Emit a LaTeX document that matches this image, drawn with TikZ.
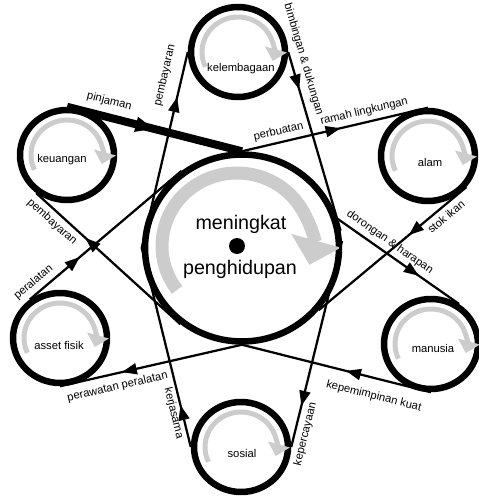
\documentclass[tikz,border=0pt]{standalone}
\usepackage{fontspec}
\setmainfont{Liberation Sans}
\usetikzlibrary{arrows.meta, shapes.geometric, decorations.markings}
\definecolor{spingray}{HTML}{CCCCCC}

\begin{document}
\begin{tikzpicture}[x = 0.02cm, y = 0.02cm]

\tikzset{
circ/.style = {ellipse, draw, line width = 0.13cm, minimum width = 1.88cm, minimum height = 1.80cm, inner sep = 0pt},
hub/.style = {ellipse, draw, line width = 0.13cm, minimum width = 3.88cm, minimum height = 3.74cm, inner sep = 0pt},
link/.style = {line width = 0.045cm},
midtip/.style = {postaction = {decorate}, decoration = {markings, mark = at position #1 with {\arrow{Triangle[width = 0.22cm, length = 0.3cm]}}}},
bigtip/.style = {postaction = {decorate}, decoration = {markings, mark = at position #1 with {\arrow{Triangle[width = 0.28cm, length = 0.38cm]}}}},
lab/.style = {font = \fontsize{6.4}{7}\selectfont, sloped, inner sep = 2.5pt},
word/.style = {font = \fontsize{6.4}{7}\selectfont},
spin/.style = {draw = spingray, line width = 0.1cm, -{Triangle[width = 0.44cm, length = 0.24cm]}},
	}

\useasboundingbox (0, 0) rectangle (478, 501);

% Circles
\node at (242, 253) [hub] (mid) {};
\node at (238, 449) [circ] (kel) {};
\node at (67, 346) [circ] (keu) {};
\node at (428, 345) [circ] (alam) {};
\node at (60, 163) [circ] (aset) {};
\node at (431, 157) [circ] (man) {};
\node at (241, 54) [circ] (sos) {};

% Turning arrows
\foreach \n in {kel, keu, alam, aset, man, sos}
  \draw [spin] ([shift = {(205:0.72cm and 0.70cm)}] \n.center) arc [start angle = 205, end angle = -15, x radius = 0.72cm, y radius = 0.70cm];
\node at (237, 255) [circle, fill, minimum size = 0.32cm, inner sep = 0pt] (dot) {};
\draw [spin, line width = 0.26cm, -{Triangle[width = 1cm, length = 0.5cm]}] ([shift = {(217:1.5cm and 1.46cm)}] dot.center) arc [start angle = 217, end angle = -15, x radius = 1.5cm, y radius = 1.46cm];

% Texts
\node at (241, 271) [anchor = base, font = \fontsize{11.2}{13}\selectfont] (up) {meningkat};
\node at (240, 226) [anchor = base, font = \fontsize{11.2}{13}\selectfont] (down) {penghidupan};
\node at (241, 432) [word] (kelt) {kelembagaan};
\node at (62, 341) [word] (keut) {keuangan};
\node at (430, 339) [word] (alamt) {alam};
\node at (59, 156) [word] (asett) {asset fisik};
\node at (433, 153) [word] (mant) {manusia};
\node at (242, 48) [word] (sost) {sosial};

% Links
\draw [link, line width = 0.16cm, bigtip = 0.5] (keu.north) -- (mid.north) node [lab, pos = 0.22, above = 1pt] {pinjaman};
\draw [link, midtip = 0.53] (mid.north) -- (alam.north) node [lab, pos = 0.21, above] {perbuatan} node [lab, pos = 0.67, above] {ramah lingkungan};
\draw [link, midtip = 0.77] (mid.west) -- (kel.west) node [lab, pos = 0.86, above = 3.5pt] {pembayaran};
\draw [link, midtip = 0.21] (sos.west) -- (mid.west) node [lab, pos = 0.18, below = -1.2pt] {kerjasama};
\draw [link, midtip = 0.21] (kel.east) -- (mid.10) node [lab, pos = 0.06, above = 1pt] {bimbingan \& dukungan};
\draw [link, midtip = 0.8] (mid.4) -- (sos.east) node [lab, pos = 0.925, below] {kepercayaan};
\draw [link, midtip = 0.45] (man.south) -- (mid.south) node [lab, pos = 0.28, below = 4pt] {kepemimpinan kuat};
\draw [link, midtip = 0.66] (mid.south) -- (aset.south) node [lab, pos = 0.7, below = 1.5pt] {perawatan peralatan};
\draw [link, midtip = 0.33] (aset.128) -- (mid.128) node [lab, pos = 0.07, above] {peralatan};
\draw [link, midtip = 0.66] (mid.231) -- (keu.231) node [lab, pos = 0.84, below] {pembayaran};
\draw [link, midtip = 0.39] (alam.321) -- (mid.321) node [lab, pos = 0.18, below] {stok ikan};
\draw [link, midtip = 0.67] (mid.17) -- (man.55) node [lab, pos = 0.38, above] {dorongan \& harapan};

\end{tikzpicture}
\end{document}
